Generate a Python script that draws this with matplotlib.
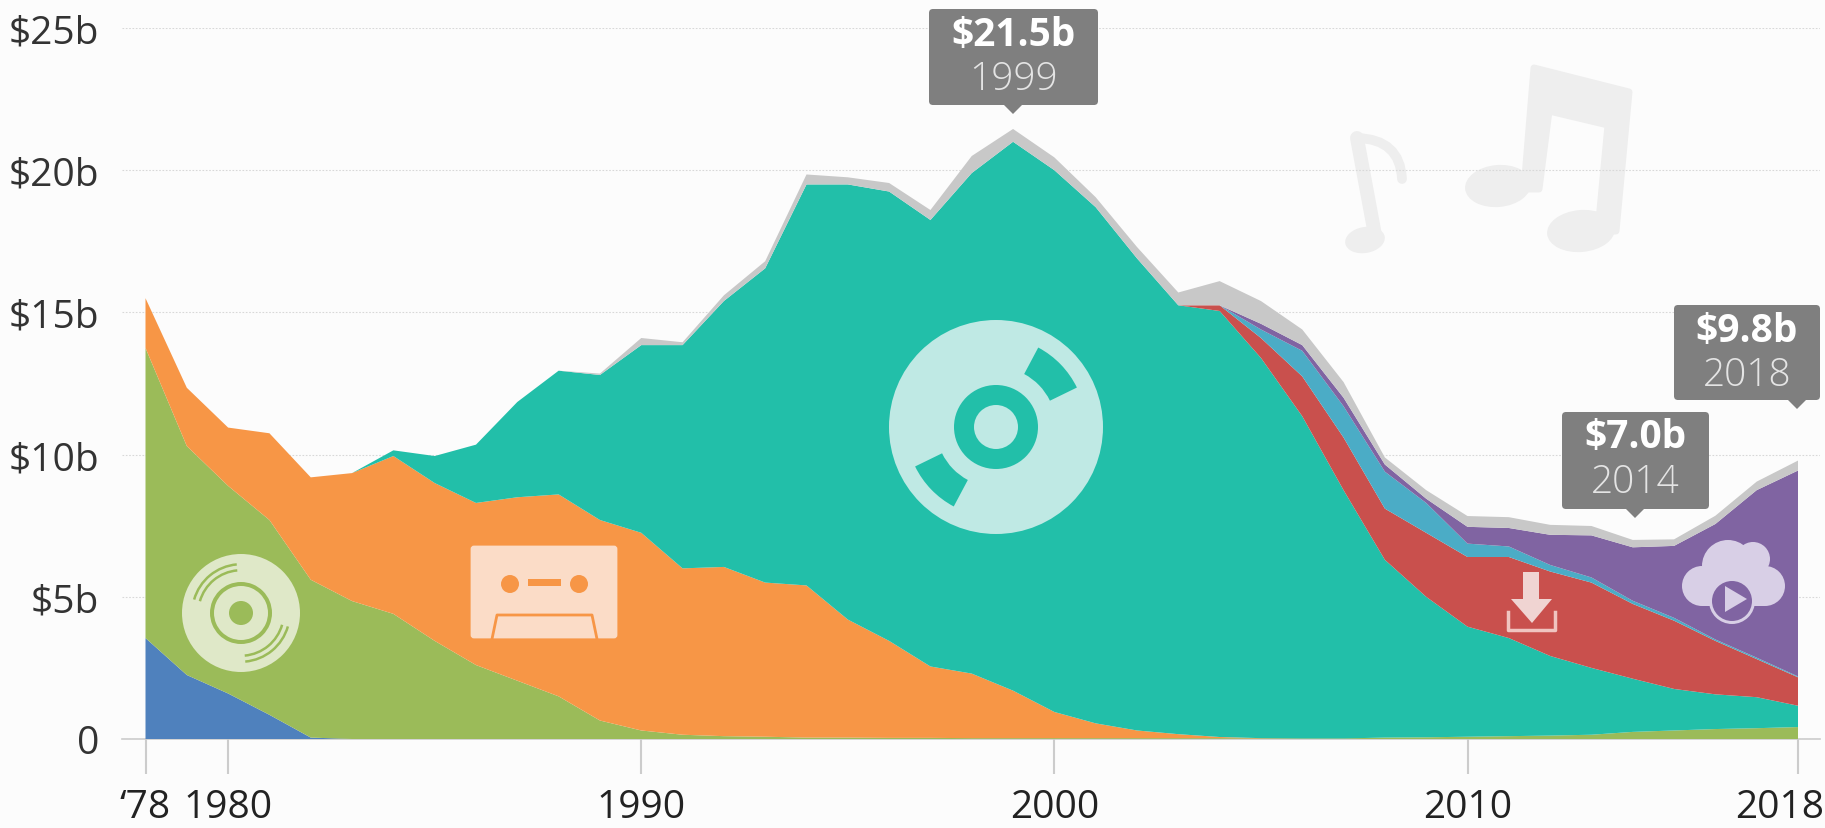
import numpy as np
import matplotlib
matplotlib.use("Agg")
import matplotlib.pyplot as plt
from matplotlib.patches import Circle, Ellipse, FancyBboxPatch, PathPatch, Polygon, Rectangle, Wedge
from matplotlib.path import Path
from matplotlib.transforms import ScaledTranslation

plt.rcParams["font.family"] = ["Open Sans", "DejaVu Sans"]

years = np.arange(1978, 2019)

# US music revenue by format, $b, bottom of the stack first
eight_track = [3.55, 2.25, 1.6, 0.85, 0.05] + [0] * 36
vinyl = [10.2, 8.05, 7.3, 6.85, 5.55, 4.85, 4.4, 3.45, 2.6, 2.05,
         1.5, 0.65, 0.3, 0.15, 0.1, 0.08, 0.05, 0.05, 0.04, 0.04,
         0.03, 0.03, 0.03, 0.03, 0.03, 0.03, 0.03, 0.02, 0.02, 0.02,
         0.05, 0.06, 0.08, 0.1, 0.12, 0.15, 0.25, 0.3, 0.35, 0.38, 0.42]
cassette = [1.75, 2.05, 2.05, 3.05, 3.6, 4.5, 5.55, 5.55, 5.7, 6.45,
            7.1, 7.05, 6.95, 5.85, 5.95, 5.42, 5.35, 4.15, 3.41, 2.51,
            2.27, 1.67, 0.92, 0.52, 0.27, 0.14, 0.04, 0.01, 0, 0,
            0, 0, 0, 0, 0, 0, 0, 0, 0, 0, 0]
cd = [0, 0, 0, 0, 0, 0, 0.2, 0.95, 2.05, 3.35,
      4.35, 5.1, 6.6, 7.85, 9.35, 11.05, 14.1, 15.3, 15.8, 15.7,
      17.6, 19.3, 19.05, 18.15, 16.6, 15.08, 14.98, 13.37, 11.33, 8.73,
      6.25, 4.94, 3.87, 3.45, 2.8, 2.35, 1.87, 1.46, 1.22, 1.09, 0.75]
downloads = [0] * 26 + [0.2, 0.7, 1.4, 1.85, 1.8, 2.25, 2.45, 2.85, 2.97,
                        3.0, 2.63, 2.4, 1.88, 1.34, 1.0]
ringtones = [0] * 26 + [0, 0.3, 0.9, 1.1, 1.3, 1.05, 0.47, 0.37, 0.23,
                        0.18, 0.11, 0.1, 0.05, 0.05, 0.03]
streaming = [0] * 26 + [0, 0.2, 0.2, 0.3, 0.25, 0.15, 0.59, 0.65, 1.06,
                        1.48, 1.88, 2.53, 4.06, 5.89, 7.24]
other = [0] * 11 + [0.05, 0.25, 0.1, 0.2, 0.25, 0.35, 0.25, 0.3, 0.35,
                    0.6, 0.45, 0.45, 0.35, 0.4, 0.45, 0.85, 0.8, 0.55, 0.55,
                    0.25, 0.3, 0.38, 0.38, 0.35, 0.33, 0.26, 0.23, 0.29, 0.3, 0.35]

layer_colors = ["#4f81bd", "#9bbb59", "#f79646", "#22bfa9",
                "#c9504d", "#4bacc6", "#8064a2", "#c8c8c8"]

y_ticks = [0, 5, 10, 15, 20, 25]
y_labels = ["0", "$5b", "$10b", "$15b", "$20b", "$25b"]
x_ticks = [1978, 1980, 1990, 2000, 2010, 2018]
x_labels = ["\u201878", "1980", "1990", "2000", "2010", "2018"]

# value, year, box left/right/top/bottom in pixels, tip position
callouts = [
    ("$21.5b", "1999", 929, 1098, 10, 106, 1013, 115),
    ("$7.0b", "2014", 1562, 1709, 413, 510, 1635, 519),
    ("$9.8b", "2018", 1674, 1820, 306, 401, 1797, 410),
]

BG = "#fcfcfc"
W, H = 1825, 829
X0, X1 = 145.5, 1798.0  # pixels of 1978 and 2018
Y0, Y25 = 740.0, 29.0  # pixels of 0 and $25b
LEFT, RIGHT = 122.0, 1820.0

fig = plt.figure(figsize=(W / 100, H / 100), dpi=100, facecolor=BG)


def pixel_axes(zorder):
    layer = fig.add_axes([0, 0, 1, 1], zorder=zorder)
    layer.set_xlim(0, W)
    layer.set_ylim(H, 0)
    layer.axis("off")
    layer.patch.set_alpha(0)
    return layer


# music notes sit behind the gridlines
back = pixel_axes(0)
note = "#eeeeee"
back.add_patch(Polygon([(1534, 69), (1629, 93), (1616, 232), (1598, 232), (1608, 126),
                        (1549, 112), (1539, 190), (1524, 190)],
                       fc=note, ec=note, lw=5, joinstyle="round"))
back.add_patch(Ellipse((1498, 187), 66, 42, angle=-5, color=note, lw=0))
back.add_patch(Ellipse((1581, 232), 68, 42, angle=-5, color=note, lw=0))
back.plot([1357, 1375], [139, 236], color=note, lw=10, solid_capstyle="round")
back.add_patch(PathPatch(Path([(1357, 139), (1400, 140), (1402, 180)],
                              [Path.MOVETO, Path.CURVE3, Path.CURVE3]),
                         fc="none", ec=note, lw=7, capstyle="round"))
back.add_patch(Ellipse((1365, 241), 40, 26, angle=-10, color=note, lw=0))

ax = fig.add_axes([LEFT / W, (H - Y0) / H, (RIGHT - LEFT) / W, (Y0 - Y25) / H], zorder=1)
ax.set_facecolor("none")

per_year = (X1 - X0) / 40
ax.set_xlim(1978 - (X0 - LEFT) / per_year, 2018 + (RIGHT - X1) / per_year)
ax.set_ylim(0, 25)

ax.stackplot(years, eight_track, vinyl, cassette, cd, downloads, ringtones,
             streaming, other, colors=layer_colors, linewidth=0, zorder=3)

for side in ["top", "right", "left"]:
    ax.spines[side].set_visible(False)
ax.spines["bottom"].set_color("#cccccc")
ax.spines["bottom"].set_linewidth(1.2)

ax.set_yticks(y_ticks, y_labels)
ax.tick_params(axis="y", length=0, pad=16.5, labelsize=28, labelcolor="#333333")
ax.yaxis.grid(True, color="#d8d8d8", linewidth=0.8, linestyle=(0, (1.5, 1.5)))
ax.set_axisbelow(True)

ax.set_xticks(x_ticks, x_labels)
ax.tick_params(axis="x", length=25, width=1.5, color="#cccccc", pad=10,
               labelsize=28, labelcolor="#222222")
# last year label sits left of its tick so it stays on the canvas
last = ax.get_xticklabels()[-1]
last.set_transform(last.get_transform() + ScaledTranslation(-18 / 100, 0, fig.dpi_scale_trans))

# overlay in pixel coordinates for the icons and callouts
ov = pixel_axes(5)

# CD
cd_light, teal = "#bfe9e4", layer_colors[3]
ov.add_patch(Circle((996, 428), 107, color=cd_light, lw=0))
ov.add_patch(Wedge((996, 428), 90, -62, -26, width=30, color=teal, lw=0))
ov.add_patch(Wedge((996, 428), 90, 118, 154, width=30, color=teal, lw=0))
ov.add_patch(Circle((996, 428), 42, color=teal, lw=0))
ov.add_patch(Circle((996, 428), 22, color=cd_light, lw=0))

# vinyl record
vinyl_light, green = "#dfe8c8", layer_colors[1]
ov.add_patch(Circle((241, 614), 59, color=vinyl_light, lw=0))
ov.add_patch(Wedge((241, 614), 31, 0, 360, width=4, color=green, lw=0))
ov.add_patch(Circle((241, 614), 12, color=green, lw=0))
for radius in [50, 44]:
    ov.add_patch(Wedge((241, 614), radius, -164, -95, width=2.5, color=green, lw=0))
    ov.add_patch(Wedge((241, 614), radius, 16, 85, width=2.5, color=green, lw=0))

# cassette
tape_light, orange = "#fbdcc7", layer_colors[2]
ov.add_patch(FancyBboxPatch((472, 548), 144, 90, boxstyle="round,pad=0,rounding_size=2",
                            fc=tape_light, ec=tape_light, lw=2))
ov.add_patch(Circle((510, 585), 9, color=orange, lw=0))
ov.add_patch(Circle((579, 585), 9, color=orange, lw=0))
ov.add_patch(Rectangle((528, 580), 33, 7, color=orange, lw=0))
ov.plot([492, 497, 592, 597], [640, 616, 616, 640], color=orange, lw=2)

# download arrow
ov.add_patch(Polygon([(1523, 573), (1539, 573), (1539, 600), (1552, 600), (1532, 624),
                      (1511, 600), (1523, 600)], fc="#f0d4d2", ec="none"))
ov.plot([1508, 1508, 1555, 1555], [613, 631, 631, 613], color="#f0c4c0", lw=2.5)

# streaming cloud
cloud = "#d8cfe6"
for xy, radius in [((1702, 587), 20), ((1728, 567), 26), ((1753, 560), 17), ((1765, 587), 20)]:
    ov.add_patch(Circle(xy, radius, color=cloud, lw=0))
ov.add_patch(Rectangle((1702, 578), 63, 29, color=cloud, lw=0))
ov.add_patch(Circle((1732, 602), 23, color=cloud, lw=0))
ov.add_patch(Circle((1732, 602), 20, color=layer_colors[6], lw=0))
ov.add_patch(Polygon([(1725, 587), (1725, 613), (1747, 600)], fc=cloud, ec="none"))

# callouts
box_color = "#7f7f7f"
for value, year, left, right, top, bottom, tip_x, tip_y in callouts:
    ov.add_patch(FancyBboxPatch((left + 4, top + 4), right - left - 8, bottom - top - 8,
                                boxstyle="round,pad=4,rounding_size=4",
                                fc=box_color, ec="none"))
    ov.add_patch(Polygon([(tip_x - 10, bottom - 1), (tip_x + 10, bottom - 1), (tip_x, tip_y)],
                         fc=box_color, ec="none"))
    center = (left + right) / 2
    ov.text(center, top + 25, value, ha="center", va="center", color="white",
            fontsize=28, fontweight="bold")
    ov.text(center, top + 70, year, ha="center", va="center", color="#e4e4e4",
            fontsize=28, fontweight="light")

fig.savefig("out.png", dpi=100, facecolor=BG)
